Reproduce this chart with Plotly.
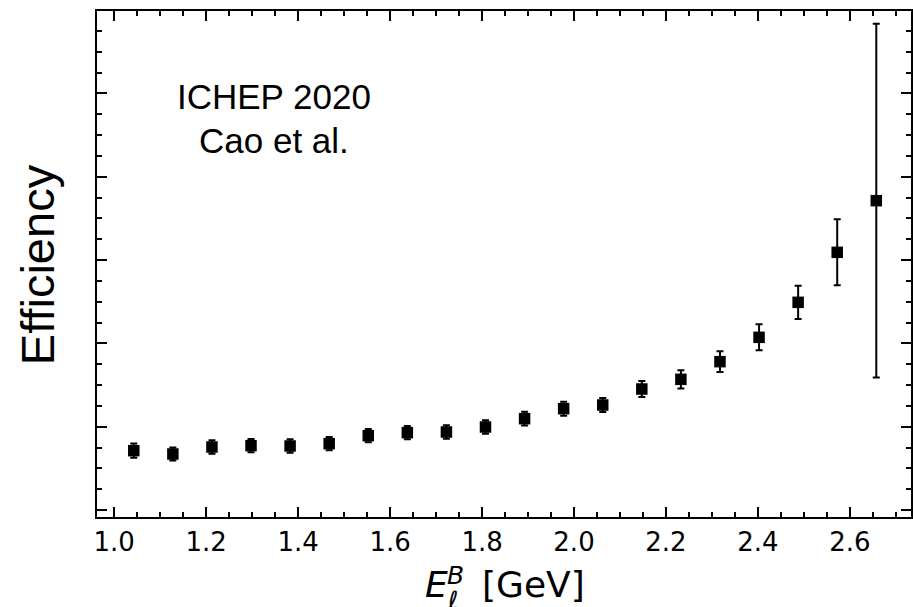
import plotly.graph_objects as go

# Lepton energy bin centres (GeV) and measured efficiency with uncertainty
energy = [1.0425, 1.1275, 1.2125, 1.2975, 1.3825, 1.4675, 1.5525, 1.6375, 1.7225, 1.8075,
          1.8925, 1.9775, 2.0625, 2.1475, 2.2325, 2.3175, 2.4025, 2.4875, 2.5725, 2.6575]
efficiency = [0.0712, 0.0672, 0.0756, 0.0772, 0.0768, 0.0796, 0.0892, 0.0928, 0.0936, 0.0996,
              0.1096, 0.1216, 0.1260, 0.1452, 0.1568, 0.1780, 0.2072, 0.2492, 0.3092, 0.3712]
eff_err = [0.0086, 0.0078, 0.0080, 0.0080, 0.0080, 0.0080, 0.0080, 0.0080, 0.0080, 0.0082,
           0.0082, 0.0084, 0.0084, 0.0096, 0.0110, 0.0125, 0.0156, 0.0200, 0.0396, 0.2122]
x_ticks = [1.0, 1.2, 1.4, 1.6, 1.8, 2.0, 2.2, 2.4, 2.6]
x_tick_text = ["1.0", "1.2", "1.4", "1.6", "1.8", "2.0", "2.2", "2.4", "2.6"]

W, H = 913, 607
ML, MR, MT, MB = 97, 0, 11, 90
PW, PH = W - ML - MR, H - MT - MB


def px(x):
    return (x - ML) / PW


def py(y):
    return (H - MB - y) / PH


fig = go.Figure()
fig.add_trace(go.Scatter(
    x=energy, y=efficiency, mode="markers",
    marker=dict(symbol="square", size=11.5, color="black"),
    error_y=dict(type="data", array=eff_err, visible=True,
                 color="black", thickness=2, width=3.5),
    showlegend=False, hoverinfo="x+y",
))

axis_common = dict(
    showline=True, linecolor="black", linewidth=2, mirror="allticks",
    ticks="inside", tickcolor="black", tickwidth=1.5,
    showgrid=False, zeroline=False,
)

fig.update_xaxes(
    range=[0.9625, 2.733], tickvals=x_ticks, ticktext=x_tick_text, ticklen=10,
    tickfont=dict(family="DejaVu Sans", size=26, color="black"),
    ticklabelstandoff=1,
    minor=dict(ticks="inside", dtick=0.05, tick0=1.0, ticklen=5, tickwidth=1.5,
               tickcolor="black", showgrid=False),
    **axis_common,
)
fig.update_yaxes(
    range=[-0.0084, 0.5988], dtick=0.1, tick0=0, ticklen=10, showticklabels=False,
    minor=dict(ticks="inside", dtick=0.025, tick0=0, ticklen=5, tickwidth=1.5,
               tickcolor="black", showgrid=False),
    **axis_common,
)

label_font = dict(family="Liberation Sans", color="black")
math_font = dict(family="DejaVu Sans", color="black")
annotations = [
    dict(text="ICHEP 2020", x=px(274.5), y=py(96), font=dict(size=35, **label_font)),
    dict(text="Cao et al.", x=px(274.5), y=py(141), font=dict(size=35, **label_font)),
    dict(text="Efficiency", x=px(37), y=py(265), textangle=-90,
         font=dict(size=47, **label_font)),
    dict(text="<i>E</i>", x=px(424), y=py(584), xanchor="left",
         font=dict(size=36, **math_font)),
    dict(text="<i>B</i>", x=px(446), y=py(575), xanchor="left",
         font=dict(size=25, **math_font)),
    dict(text="<i>ℓ</i>", x=px(446), y=py(600), xanchor="left",
         font=dict(size=25, **math_font)),
    dict(text="[GeV]", x=px(481), y=py(584), xanchor="left",
         font=dict(size=36, **math_font)),
]
for a in annotations:
    a.update(xref="paper", yref="paper", showarrow=False)
    a.setdefault("xanchor", "center")
    a.setdefault("yanchor", "middle")

fig.update_layout(
    width=W, height=H,
    margin=dict(l=ML, r=MR, t=MT, b=MB),
    paper_bgcolor="white", plot_bgcolor="white",
    annotations=annotations,
)

fig.write_html("out.html")
